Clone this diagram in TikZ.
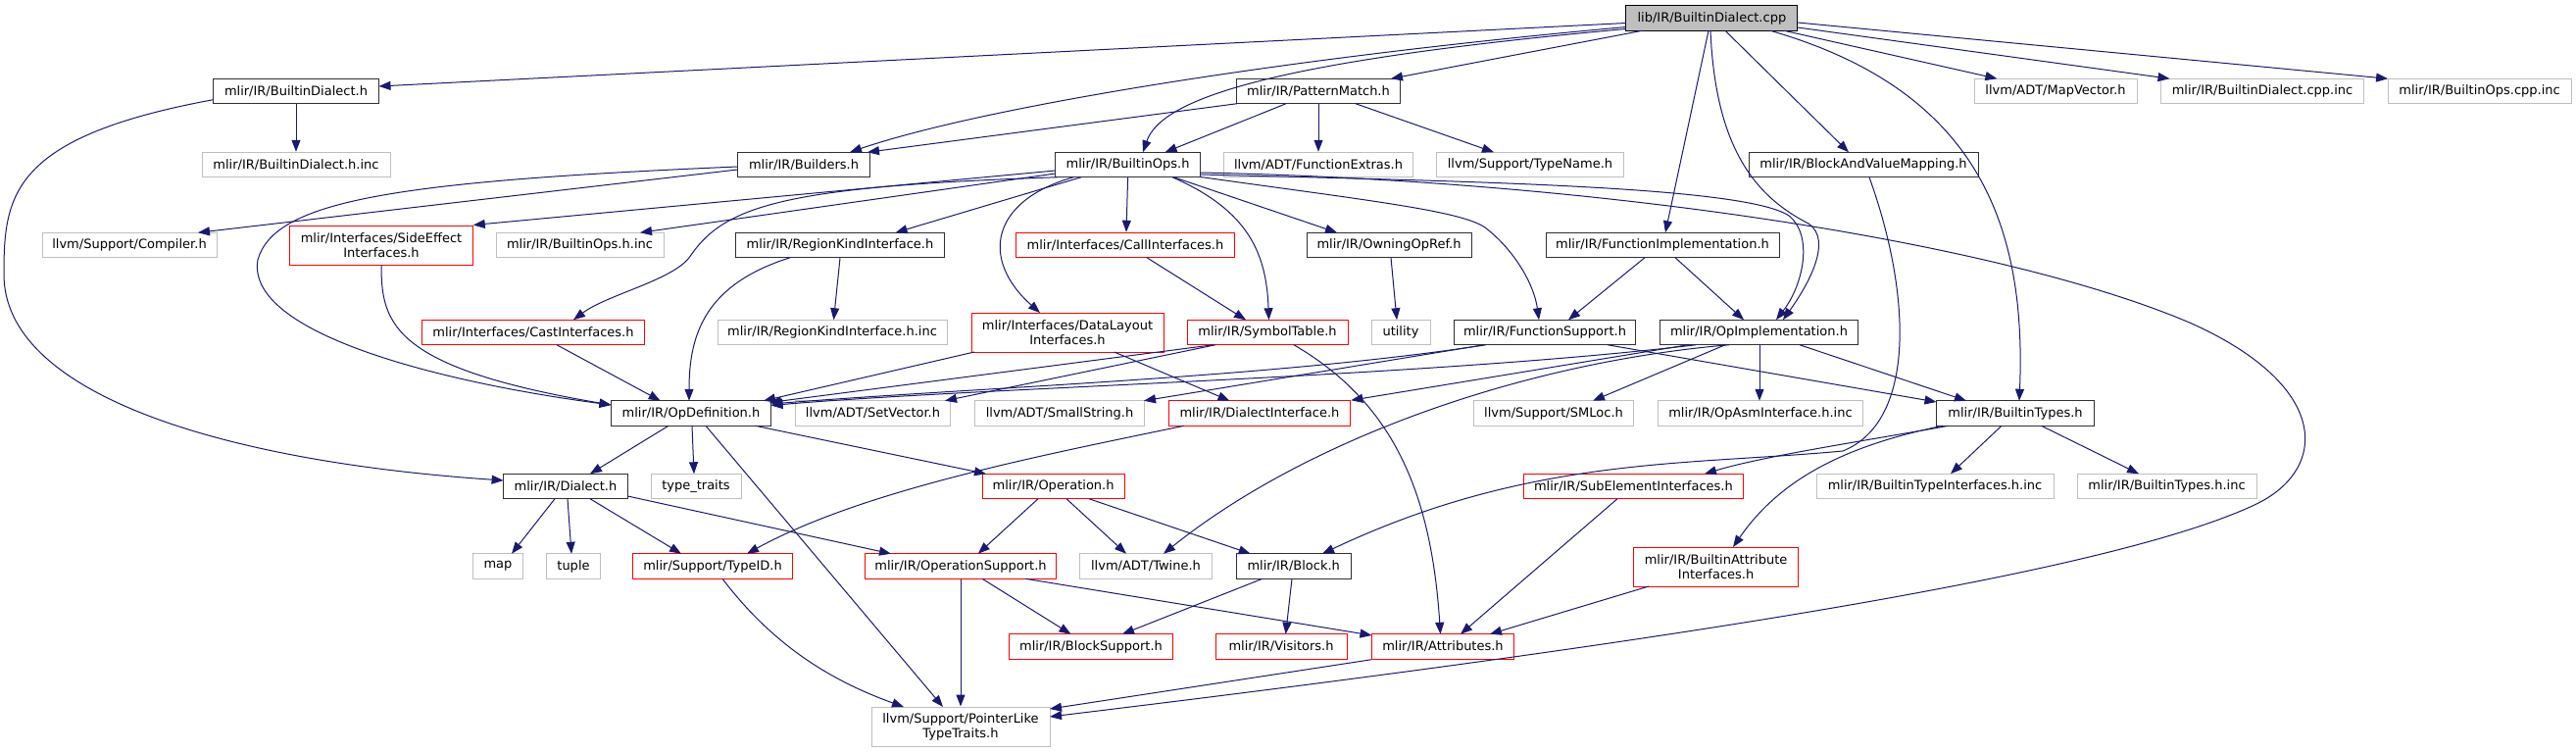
\documentclass[tikz,border=0pt]{standalone}
\usepackage{fontspec}
\setmainfont{DejaVu Sans}
\usetikzlibrary{arrows.meta,calc}
\definecolor{edgeblue}{HTML}{191970}
\definecolor{docgray}{HTML}{303030}
\definecolor{extgray}{HTML}{BFBFBF}
\definecolor{truncred}{HTML}{FF0000}
\begin{document}
\begin{tikzpicture}[x=1pt,y=-1pt,
  box/.style={draw, line width=1pt, minimum height=25.5pt, inner sep=0pt, font=\fontsize{13}{15}\selectfont, text=black, align=center},
  doc/.style={box, draw=docgray},
  ext/.style={box, draw=extgray},
  trunc/.style={box, draw=truncred},
  rootbox/.style={box, draw=black, fill=extgray},
  tall/.style={minimum height=40pt},
  dep/.style={draw=edgeblue, line width=1pt, -{Triangle[length=12pt,width=9pt]}}
]
\useasboundingbox (0,0) rectangle (2628,768);
% row 1
\node[rootbox, minimum width=175pt] (root) at (1746.4,18.5) {lib/IR/BuiltinDialect.cpp};
% row 2
\node[doc, minimum width=169pt] (bdh) at (302,93) {mlir/IR/BuiltinDialect.h};
\node[doc, minimum width=166.5pt] (pm) at (1345,93) {mlir/IR/PatternMatch.h};
\node[ext, minimum width=166pt] (mapv) at (2097,93) {llvm/ADT/MapVector.h};
\node[ext, minimum width=207pt] (bdcppinc) at (2308,93) {mlir/IR/BuiltinDialect.cpp.inc};
\node[ext, minimum width=187pt] (bocppinc) at (2529.6,93) {mlir/IR/BuiltinOps.cpp.inc};
% row 3
\node[ext, minimum width=192pt] (bdhinc) at (302,168) {mlir/IR/BuiltinDialect.h.inc};
\node[doc, minimum width=135pt] (bld) at (820,168) {mlir/IR/Builders.h};
\node[doc, minimum width=148pt] (bo) at (1150.6,168) {mlir/IR/BuiltinOps.h};
\node[ext, minimum width=193pt] (fx) at (1345,168) {llvm/ADT/FunctionExtras.h};
\node[ext, minimum width=191pt] (tn) at (1561,168) {llvm/Support/TypeName.h};
\node[doc, minimum width=234pt] (bav) at (1901,168) {mlir/IR/BlockAndValueMapping.h};
% row 4
\node[ext, minimum width=178pt] (comp) at (132,250) {llvm/Support/Compiler.h};
\node[trunc, tall, minimum width=186.5pt] (se) at (389,250) {mlir/Interfaces/SideEffect\\Interfaces.h};
\node[ext, minimum width=171pt] (bohinc) at (591.5,250) {mlir/IR/BuiltinOps.h.inc};
\node[doc, minimum width=212.6pt] (rk) at (857,250) {mlir/IR/RegionKindInterface.h};
\node[trunc, minimum width=223pt] (ci) at (1148,250) {mlir/Interfaces/CallInterfaces.h};
\node[doc, minimum width=168pt] (oor) at (1417,250) {mlir/IR/OwningOpRef.h};
\node[doc, minimum width=238pt] (fi) at (1696,250) {mlir/IR/FunctionImplementation.h};
% row 5
\node[trunc, minimum width=226.5pt] (cast) at (544,339) {mlir/Interfaces/CastInterfaces.h};
\node[ext, minimum width=234pt] (rkinc) at (849,339) {mlir/IR/RegionKindInterface.h.inc};
\node[trunc, tall, minimum width=196pt] (dl) at (1089,339) {mlir/Interfaces/DataLayout\\Interfaces.h};
\node[trunc, minimum width=164pt] (st) at (1293,339) {mlir/IR/SymbolTable.h};
\node[ext, minimum width=60pt] (util) at (1429,339) {utility};
\node[doc, minimum width=185pt] (fs) at (1576,339) {mlir/IR/FunctionSupport.h};
\node[doc, minimum width=202.5pt] (oi) at (1794.5,339) {mlir/IR/OpImplementation.h};
% row 6
\node[doc, minimum width=163pt] (od) at (705,421.5) {mlir/IR/OpDefinition.h};
\node[ext, minimum width=158pt] (sv) at (890.5,421.5) {llvm/ADT/SetVector.h};
\node[ext, minimum width=172.6pt] (ss) at (1081,421.5) {llvm/ADT/SmallString.h};
\node[trunc, minimum width=185.5pt] (di) at (1285,421.5) {mlir/IR/DialectInterface.h};
\node[ext, minimum width=162.5pt] (sml) at (1585,421.5) {llvm/Support/SMLoc.h};
\node[ext, minimum width=209pt] (oai) at (1796,421.5) {mlir/IR/OpAsmInterface.h.inc};
\node[doc, minimum width=161pt] (bt) at (2056,421.5) {mlir/IR/BuiltinTypes.h};
% row 7
\node[doc, minimum width=126.7pt] (dia) at (577,496) {mlir/IR/Dialect.h};
\node[ext, minimum width=92pt] (tt) at (710,496) {type\_traits};
\node[trunc, minimum width=145pt] (op) at (1074.6,496) {mlir/IR/Operation.h};
\node[trunc, minimum width=224pt] (sei) at (1666.4,496) {mlir/IR/SubElementInterfaces.h};
\node[ext, minimum width=242pt] (btiinc) at (1974,496) {mlir/IR/BuiltinTypeInterfaces.h.inc};
\node[ext, minimum width=183pt] (bthinc) at (2210.5,496) {mlir/IR/BuiltinTypes.h.inc};
% row 8
\node[ext, minimum width=51pt] (map) at (508,577.5) {map};
\node[ext, minimum width=55pt] (tup) at (585,577.5) {tuple};
\node[trunc, minimum width=163pt] (tid) at (727,577.5) {mlir/Support/TypeID.h};
\node[trunc, minimum width=195pt] (osup) at (980,577.5) {mlir/IR/OperationSupport.h};
\node[ext, minimum width=135pt] (tw) at (1169,577.5) {llvm/ADT/Twine.h};
\node[doc, minimum width=117pt] (blk) at (1319.7,577.5) {mlir/IR/Block.h};
\node[trunc, tall, minimum width=168pt] (bai) at (1750.6,578) {mlir/IR/BuiltinAttribute\\Interfaces.h};
% row 9
\node[trunc, minimum width=167pt] (bs) at (1113,659.5) {mlir/IR/BlockSupport.h};
\node[trunc, minimum width=134pt] (vis) at (1307,659.5) {mlir/IR/Visitors.h};
\node[trunc, minimum width=145pt] (attr) at (1472,659.5) {mlir/IR/Attributes.h};
% row 10
\node[ext, tall, minimum width=182pt] (plt) at (980,741) {llvm/Support/PointerLike\\TypeTraits.h};

% ---- edges from root
\draw[dep] ($(root)+(-87.5,5)$) -- ($(bdh)+(84.5,-5)$);
\draw[dep] ($(root)+(-87.5,9)$) .. controls (1300,60) and (1000,110) .. ($(bld)+(47,-12.75)$);
\draw[dep] ($(root)+(-87.5,11)$) .. controls (1300,62) and (1185,100) .. ($(bo)+(15.4,-12.75)$);
\draw[dep] ($(root)+(-70.8,12.75)$) -- ($(pm)+(74,-12.75)$);
\draw[dep] ($(root)+(-3.4,12.75)$) -- ($(fi)+(3,-12.75)$);
\draw[dep] ($(root)+(-1.4,12.75)$) .. controls (1750,150) and (1790,200) .. (1845,228) .. controls (1870,245) and (1845,290) .. ($(oi)+(24.5,-12.75)$);
\draw[dep] ($(root)+(13.6,12.75)$) -- ($(bav)+(-15,-12.75)$);
\draw[dep] ($(root)+(59.6,12.75)$) .. controls (2010,90) and (2068,220) .. ($(bt)+(4,-12.75)$);
\draw[dep] ($(root)+(73.6,12.75)$) -- ($(mapv)+(-59.6,-12.75)$);
\draw[dep] ($(root)+(87.5,9.5)$) -- ($(bdcppinc)+(-94.5,-12.75)$);
\draw[dep] ($(root)+(87.5,4.5)$) -- ($(bocppinc)+(-93.5,-12.75)$);
% ---- PatternMatch
\draw[dep] ($(pm)+(-83.25,12.75)$) -- ($(bld)+(65,-12.75)$);
\draw[dep] ($(pm)+(-33,12.75)$) -- ($(bo)+(38,-12.75)$);
\draw[dep] (pm.south) -- (fx.north);
\draw[dep] ($(pm)+(38,12.75)$) -- ($(tn)+(-37,-12.75)$);
% ---- BuiltinDialect.h
\draw[dep] (bdh.south) -- (bdhinc.north);
\draw[dep] ($(bdh)+(-84.5,8.7)$) .. controls (10,140) and (4,200) .. (4,280) .. controls (4,400) and (220,470) .. ($(dia)+(-63.4,-6)$);
% ---- Builders
\draw[dep] ($(bld)+(-67.6,5)$) -- ($(comp)+(70,-12.75)$);
\draw[dep] ($(bld)+(-67.6,2)$) .. controls (400,185) and (280,205) .. (263,265) .. controls (250,340) and (450,390) .. ($(od)+(-81.5,-8.5)$);
% ---- SideEffect
\draw[dep] (se.south) .. controls (389,330) and (400,375) .. ($(od)+(-81.5,-8.5)$);
% ---- BuiltinOps
\draw[dep] ($(bo)+(-74.1,6)$) -- (se.north east);
\draw[dep] ($(bo)+(-74.1,9)$) -- ($(bohinc)+(61.5,-12.75)$);
\draw[dep] ($(bo)+(-72,12.75)$) .. controls (800,190) and (740,210) .. (705,260) .. controls (690,285) and (620,300) .. ($(cast)+(41,-12.75)$);
\draw[dep] ($(bo)+(-47.6,12.75)$) -- ($(rk)+(56.6,-12.75)$);
\draw[dep] ($(bo)+(-55.6,12.75)$) .. controls (1010,205) and (1000,265) .. ($(dl)+(-28,-20)$);
\draw[dep] (bo.south) -- ($(ci.north)+(1,0)$);
\draw[dep] ($(bo)+(45.4,12.75)$) .. controls (1275,215) and (1292,260) .. ($(st)+(1.5,-12.75)$);
\draw[dep] ($(bo)+(47,12.75)$) -- ($(oor)+(-53,-12.75)$);
\draw[dep] ($(bo)+(74.1,12.5)$) .. controls (1400,205) and (1490,215) .. (1515,232) .. controls (1545,255) and (1565,290) .. ($(fs)+(-6,-12.75)$);
\draw[dep] ($(bo)+(74.1,10)$) .. controls (1500,185) and (1780,190) .. (1825,220) .. controls (1850,240) and (1840,290) .. ($(oi)+(17.5,-12.75)$);
\draw[dep] ($(bo)+(74.1,8)$) .. controls (1650,185) and (2050,250) .. (2236,330) .. controls (2380,395) and (2375,480) .. (2300,515) .. controls (2150,585) and (1700,655) .. ($(plt)+(91,-10)$);
% ---- RegionKind
\draw[dep] ($(rk)+(-51,12.75)$) .. controls (720,290) and (703,340) .. ($(od)+(-2,-12.75)$);
\draw[dep] (rk.south) -- ($(rkinc)+(1.5,-12.75)$);
% ---- CallInterfaces
\draw[dep] ($(ci)+(22,12.75)$) -- ($(st)+(-22,-12.75)$);
% ---- CastInterfaces
\draw[dep] ($(cast)+(24,12.75)$) -- ($(od)+(-31.3,-12.75)$);
% ---- DataLayout
\draw[dep] ($(dl)+(-95,20)$) -- ($(od)+(74,-12.75)$);
\draw[dep] ($(dl)+(47.7,20)$) -- ($(di)+(-30.5,-12.75)$);
% ---- SymbolTable
\draw[dep] ($(st)+(-55.3,12.75)$) -- ($(od)+(80,-11)$);
\draw[dep] ($(st)+(-53,12.75)$) -- ($(sv)+(73.5,-12.75)$);
\draw[dep] ($(st)+(27,12.75)$) .. controls (1420,410) and (1460,500) .. ($(attr)+(-2.5,-12.75)$);
% ---- OwningOpRef, FunctionImplementation
\draw[dep] ($(oor)+(2,12.75)$) -- ($(util)+(-4,-12.75)$);
\draw[dep] ($(fi)+(-18,12.75)$) -- ($(fs)+(24,-12.75)$);
\draw[dep] ($(fi)+(13,12.75)$) -- ($(oi)+(-15.5,-12.75)$);
% ---- FunctionSupport
\draw[dep] ($(fs)+(-60.3,12.75)$) .. controls (1300,385) and (1000,395) .. ($(od)+(81.5,-9.5)$);
\draw[dep] ($(fs)+(-62,12.75)$) -- ($(ss)+(86,-12.75)$);
\draw[dep] ($(fs)+(64,12.75)$) -- ($(bt)+(-80.5,-11.5)$);
% ---- OpImplementation
\draw[dep] ($(oi)+(-64.5,12.75)$) .. controls (1450,385) and (1000,395) .. ($(od)+(81.5,-8)$);
\draw[dep] ($(oi)+(-72.5,12.75)$) -- (di.north east);
\draw[dep] ($(oi)+(-30.5,12.75)$) .. controls (1550,370) and (1330,450) .. ($(tw)+(18,-12.75)$);
\draw[dep] ($(oi)+(-34.5,12.75)$) -- ($(sml)+(40,-12.75)$);
\draw[dep] ($(oi)+(0.5,12.75)$) -- ($(oai)+(-1,-12.75)$);
\draw[dep] ($(oi)+(41.5,12.75)$) -- ($(bt)+(-50,-12.75)$);
% ---- BlockAndValueMapping
\draw[dep] ($(bav)+(6,12.75)$) .. controls (1950,300) and (1955,430) .. (1880,460) .. controls (1720,475) and (1560,465) .. ($(blk)+(29.3,-12.75)$);
% ---- BuiltinTypes
\draw[dep] ($(bt)+(-68,12.75)$) .. controls (1900,450) and (1800,465) .. ($(sei)+(72.6,-12.75)$);
\draw[dep] ($(bt)+(-74,12.75)$) .. controls (1880,455) and (1815,490) .. ($(bai)+(17.4,-20)$);
\draw[dep] ($(bt)+(-14,12.75)$) -- ($(btiinc)+(16,-12.75)$);
\draw[dep] ($(bt)+(26.5,12.75)$) -- ($(bthinc)+(-28.5,-12.75)$);
% ---- Attributes chain
\draw[dep] ($(sei)+(-16.4,12.75)$) -- ($(attr)+(18,-12.75)$);
\draw[dep] ($(bai)+(-68.6,20)$) -- ($(attr)+(48,-12.75)$);
\draw[dep] (attr.south west) -- ($(plt)+(91,-18)$);
% ---- OpDefinition
\draw[dep] ($(od)+(-23,12.75)$) -- ($(dia)+(25,-12.75)$);
\draw[dep] ($(od)+(1,12.75)$) -- ($(tt)+(-2,-12.75)$);
\draw[dep] ($(od)+(65.5,12.75)$) -- ($(op)+(-68.6,-12.75)$);
\draw[dep] ($(od)+(15,12.75)$) -- ($(plt)+(-18,-20)$);
% ---- Dialect
\draw[dep] ($(dia)+(-11,12.75)$) -- ($(map)+(14,-12.75)$);
\draw[dep] ($(dia)+(2,12.75)$) -- ($(tup)+(-2,-12.75)$);
\draw[dep] ($(dia)+(25,12.75)$) -- ($(tid)+(-32,-12.75)$);
\draw[dep] ($(dia)+(63.3,10)$) -- ($(osup)+(-71,-12.75)$);
% ---- DialectInterface
\draw[dep] ($(di)+(-77,12.75)$) .. controls (1060,465) and (880,500) .. ($(tid)+(35,-12.75)$);
% ---- Operation
\draw[dep] ($(op)+(-15.6,12.75)$) -- ($(osup)+(17.8,-12.75)$);
\draw[dep] ($(op)+(13.4,12.75)$) -- ($(tw)+(-20,-12.75)$);
\draw[dep] ($(op)+(36.4,12.75)$) -- ($(blk)+(-44,-12.75)$);
% ---- TypeID, OperationSupport, Block
\draw[dep] ($(tid)+(10,12.75)$) .. controls (790,660) and (850,695) .. ($(plt)+(-58,-20)$);
\draw[dep] (osup.south) -- (plt.north);
\draw[dep] ($(osup)+(22,12.75)$) -- ($(bs)+(-20.5,-12.75)$);
\draw[dep] ($(osup)+(66,12.75)$) -- ($(attr)+(-72.5,-11.5)$);
\draw[dep] ($(blk)+(-31.7,12.75)$) -- ($(bs)+(32,-12.75)$);
\draw[dep] ($(blk)+(-1.7,12.75)$) -- ($(vis)+(4.6,-12.75)$);
\end{tikzpicture}
\end{document}
